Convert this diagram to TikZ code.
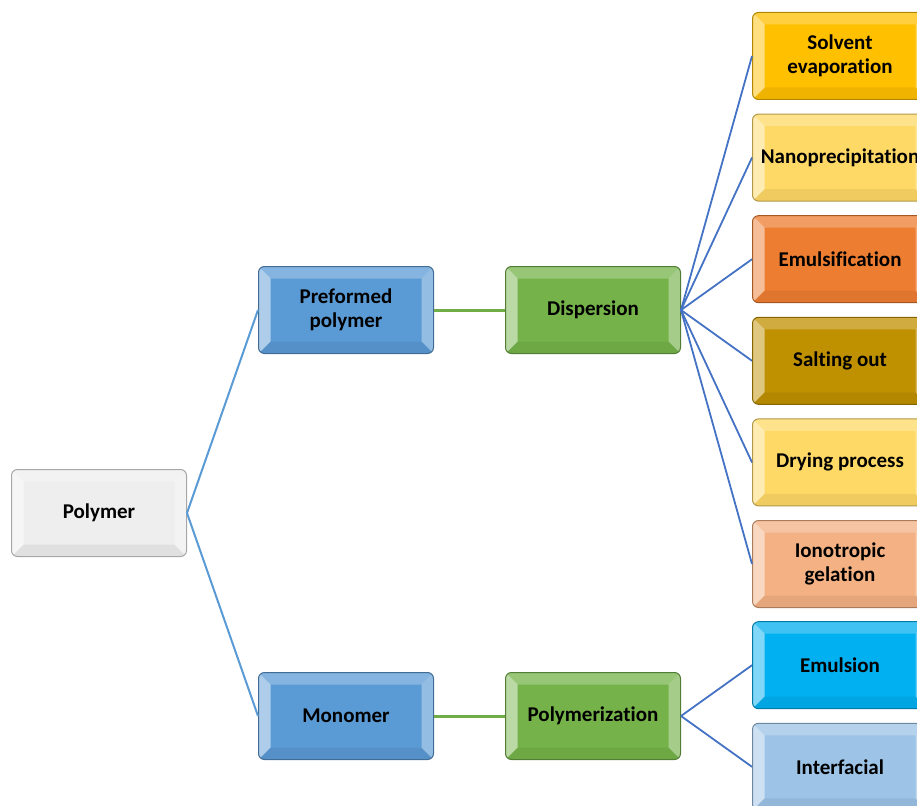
\documentclass[tikz,border=0pt]{standalone}
\usepackage{fontspec}
\setmainfont{Carlito}[Ligatures=NoCommon]
\usepackage{tikz}

\definecolor{boxgray}{HTML}{EEEEEE}
\definecolor{boxblue}{HTML}{5B9BD5}
\definecolor{boxgreen}{HTML}{75B34A}
\definecolor{solvent}{HTML}{FFC000}
\definecolor{paleyellow}{HTML}{FFD966}
\definecolor{emulsif}{HTML}{ED7D31}
\definecolor{salting}{HTML}{BF9000}
\definecolor{ionotropic}{HTML}{F4B183}
\definecolor{emulsion}{HTML}{00B0F0}
\definecolor{interfacial}{HTML}{9DC3E6}
\definecolor{lineblue}{HTML}{5B9BD5}
\definecolor{linegreen}{HTML}{70AD47}
\definecolor{linedark}{HTML}{4472C4}

\tikzset{
  bevel/.style={path picture={
    \fill[sharp corners,white,opacity=.25] (path picture bounding box.north west) -- (path picture bounding box.north east)
      -- ([shift={(-12pt,-12pt)}]path picture bounding box.north east) -- ([shift={(12pt,-12pt)}]path picture bounding box.north west) -- cycle;
    \fill[sharp corners,white,opacity=.5] (path picture bounding box.north west) -- (path picture bounding box.south west)
      -- ([shift={(12pt,12pt)}]path picture bounding box.south west) -- ([shift={(12pt,-12pt)}]path picture bounding box.north west) -- cycle;
    \fill[sharp corners,white,opacity=.35] (path picture bounding box.north east) -- (path picture bounding box.south east)
      -- ([shift={(-12pt,12pt)}]path picture bounding box.south east) -- ([shift={(-12pt,-12pt)}]path picture bounding box.north east) -- cycle;
    \fill[sharp corners,black,opacity=.06] (path picture bounding box.south west) -- (path picture bounding box.south east)
      -- ([shift={(-12pt,12pt)}]path picture bounding box.south east) -- ([shift={(12pt,12pt)}]path picture bounding box.south west) -- cycle;
  }},
  box/.style={draw=#1!70!black, fill=#1, line width=1pt, rounded corners=6pt, bevel,
    minimum width=175pt, minimum height=87pt, inner sep=0pt, align=center,
    font=\bfseries\fontsize{21}{24}\selectfont}
}

\begin{document}
\begin{tikzpicture}[x=1pt,y=1pt,grow'=right,level distance=247pt,
    parent anchor=east,child anchor=west,
    level 1/.style={sibling distance=406pt,edge from parent/.style={draw=lineblue,line width=2pt}},
    level 2/.style={edge from parent/.style={draw=linegreen,line width=3pt}},
    level 3/.style={sibling distance=101.6pt,edge from parent/.style={draw=linedark,line width=1.8pt}}]
  \path[use as bounding box] (0,0) rectangle (917,-805);
  \node[box=boxgray] (root) at (99,-513) {Polymer}
    child {node[box=boxblue] (pre) {Preformed\\polymer}
      child {node[box=boxgreen] (disp) {Dispersion}
        child {node[box=solvent] (solv) {Solvent\\evaporation}}
        child {node[box=paleyellow] (nano) {Nanoprecipitation}}
        child {node[box=emulsif] (emuls) {Emulsification}}
        child {node[box=salting] (salt) {Salting out}}
        child {node[box=paleyellow] (dry) {Drying process}}
        child {node[box=ionotropic] (iono) {Ionotropic\\gelation}}
      }
    }
    child {node[box=boxblue] (mono) {Monomer}
      child {node[box=boxgreen] (poly) {Polymerization}
        child {node[box=emulsion] (emul) {Emulsion}}
        child {node[box=interfacial] (inter) {Interfacial}}
      }
    };
\end{tikzpicture}
\end{document}
